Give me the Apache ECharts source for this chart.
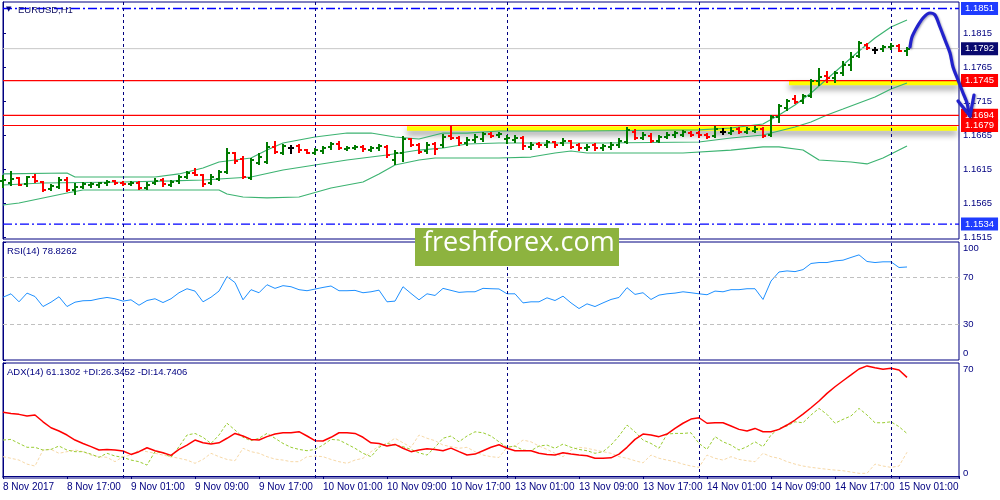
<!DOCTYPE html>
<html><head><meta charset="utf-8">
<script src="https://cdn.jsdelivr.net/npm/echarts@6/dist/echarts.min.js"></script>
<style>html,body{margin:0;padding:0;background:#fff;}#c{width:1000px;height:500px;}</style>
</head><body><div id="c"></div>
<script>
// ---------- DATA ----------
const timeLabels = ["8 Nov 2017","8 Nov 17:00","9 Nov 01:00","9 Nov 09:00","9 Nov 17:00","10 Nov 01:00","10 Nov 09:00","10 Nov 17:00","13 Nov 01:00","13 Nov 09:00","13 Nov 17:00","14 Nov 01:00","14 Nov 09:00","14 Nov 17:00","15 Nov 01:00"];
const opens = [1.15979,1.15940,1.16013,1.15930,1.16038,1.15954,1.15861,1.15881,1.15989,1.15842,1.15891,1.15910,1.15910,1.15940,1.15979,1.15949,1.15930,1.15949,1.15871,1.15940,1.15989,1.15920,1.15969,1.16038,1.16096,1.16057,1.15940,1.16008,1.16106,1.16381,1.16292,1.16013,1.16234,1.16258,1.16479,1.16391,1.16454,1.16488,1.16430,1.16391,1.16420,1.16469,1.16518,1.16449,1.16459,1.16469,1.16430,1.16454,1.16479,1.16283,1.16391,1.16587,1.16508,1.16410,1.16518,1.16508,1.16636,1.16601,1.16528,1.16577,1.16586,1.16665,1.16645,1.16586,1.16577,1.16601,1.16469,1.16518,1.16498,1.16542,1.16528,1.16557,1.16503,1.16454,1.16498,1.16454,1.16469,1.16503,1.16552,1.16699,1.16601,1.16635,1.16562,1.16616,1.16645,1.16655,1.16675,1.16684,1.16650,1.16635,1.16694,1.16684,1.16733,1.16699,1.16714,1.16743,1.16650,1.16910,1.17042,1.17174,1.17155,1.17223,1.17449,1.17517,1.17483,1.17557,1.17679,1.17811,1.17973,1.17900,1.17910,1.17939,1.17959,1.17890];
const highs = [1.16047,1.16106,1.16013,1.16038,1.16057,1.15964,1.15910,1.16023,1.16023,1.15930,1.15944,1.15949,1.15949,1.15979,1.15979,1.15964,1.15959,1.15959,1.15940,1.16008,1.16003,1.15974,1.16047,1.16111,1.16145,1.16062,1.16057,1.16121,1.16440,1.16391,1.16322,1.16302,1.16371,1.16538,1.16552,1.16503,1.16488,1.16503,1.16430,1.16440,1.16479,1.16528,1.16543,1.16479,1.16493,1.16488,1.16479,1.16508,1.16488,1.16420,1.16616,1.16596,1.16518,1.16528,1.16538,1.16650,1.16783,1.16626,1.16601,1.16650,1.16675,1.16684,1.16684,1.16635,1.16635,1.16616,1.16528,1.16537,1.16567,1.16552,1.16586,1.16567,1.16518,1.16503,1.16518,1.16503,1.16528,1.16586,1.16748,1.16724,1.16675,1.16665,1.16635,1.16675,1.16699,1.16714,1.16694,1.16699,1.16665,1.16763,1.16733,1.16748,1.16748,1.16748,1.16763,1.16748,1.16929,1.17091,1.17165,1.17223,1.17238,1.17459,1.17615,1.17581,1.17581,1.17728,1.17851,1.18022,1.17988,1.17924,1.17959,1.17988,1.17973,1.17924];
const lows = [1.15891,1.15910,1.15910,1.15900,1.15964,1.15832,1.15842,1.15866,1.15832,1.15778,1.15866,1.15891,1.15881,1.15915,1.15930,1.15915,1.15910,1.15861,1.15851,1.15930,1.15900,1.15900,1.15949,1.16018,1.16057,1.15900,1.15930,1.15989,1.16096,1.16243,1.16013,1.16003,1.16224,1.16234,1.16381,1.16371,1.16391,1.16405,1.16381,1.16366,1.16391,1.16440,1.16440,1.16430,1.16440,1.16420,1.16410,1.16430,1.16332,1.16219,1.16273,1.16488,1.16381,1.16381,1.16371,1.16479,1.16587,1.16503,1.16503,1.16552,1.16567,1.16616,1.16626,1.16537,1.16552,1.16439,1.16439,1.16478,1.16478,1.16478,1.16503,1.16454,1.16429,1.16429,1.16429,1.16429,1.16439,1.16478,1.16537,1.16586,1.16586,1.16552,1.16547,1.16601,1.16626,1.16635,1.16635,1.16626,1.16601,1.16616,1.16665,1.16665,1.16684,1.16684,1.16694,1.16626,1.16635,1.16846,1.17018,1.17125,1.17125,1.17204,1.17385,1.17434,1.17434,1.17532,1.17606,1.17792,1.17910,1.17861,1.17890,1.17910,1.17890,1.17826];
const closes = [1.15989,1.15998,1.15915,1.16028,1.15979,1.15842,1.15900,1.15989,1.15842,1.15891,1.15930,1.15930,1.15940,1.15964,1.15940,1.15930,1.15940,1.15871,1.15920,1.15979,1.15930,1.15959,1.16028,1.16087,1.16067,1.15930,1.16038,1.16111,1.16391,1.16273,1.16028,1.16283,1.16332,1.16479,1.16405,1.16488,1.16454,1.16430,1.16391,1.16430,1.16454,1.16513,1.16459,1.16464,1.16479,1.16440,1.16459,1.16488,1.16356,1.16391,1.16587,1.16508,1.16405,1.16503,1.16440,1.16626,1.16601,1.16528,1.16577,1.16626,1.16665,1.16635,1.16665,1.16601,1.16611,1.16488,1.16503,1.16498,1.16547,1.16503,1.16567,1.16478,1.16454,1.16478,1.16454,1.16488,1.16503,1.16567,1.16724,1.16601,1.16650,1.16567,1.16616,1.16650,1.16675,1.16694,1.16655,1.16645,1.16626,1.16743,1.16694,1.16714,1.16699,1.16733,1.16743,1.16635,1.16910,1.17081,1.17155,1.17140,1.17223,1.17449,1.17508,1.17483,1.17557,1.17679,1.17802,1.17998,1.17924,1.17900,1.17939,1.17959,1.17890,1.17920];

const bbUpper = [[0,1.16077],[8,1.16091],[9,1.16032],[19,1.16032],[22,1.16077],[25,1.16165],[27,1.16253],[31,1.16312],[33,1.16429],[35,1.16532],[37,1.16576],[39,1.16621],[43,1.16679],[46,1.16679],[49,1.16621],[52,1.16591],[55,1.16679],[58,1.16679],[62,1.16709],[72,1.16709],[87,1.16724],[91,1.16753],[95,1.16812],[97,1.16944],[99,1.17091],[101,1.17268],[103,1.17474],[105,1.17679],[107,1.17885],[109,1.18076],[111,1.18238],[113,1.18341]];
const bbMiddle = [[0,1.15915],[5,1.15944],[15,1.15959],[21,1.15974],[25,1.15988],[31,1.16032],[35,1.16135],[39,1.16209],[43,1.16282],[48,1.16356],[52,1.16429],[55,1.16459],[58,1.16518],[62,1.16532],[75,1.16532],[87,1.16547],[91,1.16606],[95,1.16650],[97,1.16709],[99,1.16768],[101,1.16841],[103,1.16944],[105,1.17032],[107,1.17121],[109,1.17209],[111,1.17326],[113,1.17415]];
const bbLower = [[0,1.15621],[2,1.15650],[5,1.15724],[8,1.15797],[10,1.15841],[27,1.15841],[28,1.15782],[30,1.15738],[33,1.15724],[37,1.15738],[41,1.15871],[45,1.15959],[47,1.16077],[49,1.16209],[52,1.16282],[54,1.16312],[62,1.16312],[66,1.16326],[69,1.16385],[71,1.16415],[73,1.16385],[85,1.16385],[91,1.16429],[95,1.16474],[97,1.16474],[100,1.16429],[102,1.16282],[106,1.16253],[108,1.16224],[110,1.16312],[111,1.16371],[113,1.16488]];

const rsi = [53.2,56.1,49.3,56.7,53.8,45.3,49.0,53.6,45.3,49.0,50.2,50.4,51.9,53.0,51.9,49.9,51.0,46.4,50.4,51.9,48.7,51.9,57.0,60.4,58.4,49.3,53.2,58.4,70.7,65.6,51.0,59.6,57.0,63.8,60.7,63.0,62.1,59.6,58.7,60.1,61.5,62.7,58.7,58.7,59.0,57.0,57.8,59.2,49.3,49.9,62.1,56.4,51.0,56.1,54.7,60.7,59.0,57.3,57.8,57.8,60.7,60.4,60.2,56.1,56.1,48.4,49.3,49.3,52.7,50.4,54.1,48.4,43.6,47.6,45.3,48.4,51.3,53.0,61.3,55.6,57.0,51.3,55.0,56.1,56.7,57.8,57.0,56.1,55.3,58.4,57.8,59.6,59.6,60.4,60.4,51.3,66.9,74.6,75.5,74.9,76.6,81.8,82.6,82.6,84.0,84.6,86.9,89.1,83.5,82.6,83.2,83.2,78.4,78.83];
const adx = [39.5,38.8,38.2,37.2,37.8,33.6,29.9,27.9,25.4,22.3,20.2,18.2,16.1,16.5,16.1,15.5,13.4,15.1,17.5,15.7,14.4,12.8,16.5,19.2,22.3,20.6,19.8,20.6,23.4,26.4,24.8,22.7,22.3,24.4,26.0,26.8,26.8,27.5,24.8,21.9,21.7,24.0,26.8,26.8,26.4,24.0,20.6,20.2,18.6,19.6,17.2,15.1,16.1,16.9,16.5,15.7,17.3,15.1,13.0,13.6,15.7,17.8,19.4,17.2,15.7,15.7,15.7,14.1,13.4,13.0,14.4,13.6,13.0,12.6,11.0,11.0,11.3,13.6,17.8,22.7,26.0,25.4,24.4,26.0,29.5,32.7,35.3,36.1,32.7,33.0,33.0,31.0,28.9,27.9,29.5,27.4,27.4,28.9,31.6,34.7,38.4,42.3,46.5,51.2,55.3,59.0,62.6,66.3,68.2,67.1,66.1,66.7,65.7,61.13];
const plusDI = [22.3,22.7,20.2,17.8,17.8,16.1,16.5,18.6,16.1,15.1,15.1,13.6,11.6,14.1,12.4,11.6,9.9,8.9,6.8,15.1,14.4,11.6,18.2,25.4,26.4,24.0,20.2,25.4,32.7,28.5,24.0,21.9,23.4,26.4,23.4,20.2,17.8,16.5,15.7,16.5,19.2,22.7,22.3,19.8,17.2,14.1,12.0,17.8,20.2,19.2,18.2,16.5,14.4,13.0,17.8,23.4,24.8,21.2,24.8,27.4,26.8,24.8,21.2,17.8,18.6,16.1,15.7,18.6,19.2,17.2,19.8,17.8,16.5,15.7,14.1,15.1,19.2,24.8,31.6,27.4,22.3,20.2,17.2,26.0,26.4,26.4,26.8,20.2,16.5,24.4,21.2,19.2,16.1,18.2,21.2,18.2,25.4,29.5,31.0,33.6,33.0,37.8,41.9,38.2,32.7,35.1,37.2,41.9,37.8,33.0,33.0,33.6,30.6,26.35];
const minusDI = [12.0,11.0,9.9,7.4,6.2,16.1,16.5,14.1,15.1,16.1,15.1,13.0,12.0,11.6,8.9,12.0,13.0,16.1,15.1,14.1,13.0,12.0,11.0,9.9,7.9,10.3,14.1,12.0,10.3,9.5,17.2,15.1,14.1,12.0,10.5,9.9,8.9,8.9,12.0,12.4,12.0,10.3,8.9,7.9,9.9,11.0,15.1,18.6,20.2,23.4,20.6,17.8,25.4,23.4,21.9,19.2,18.2,17.2,17.8,15.1,13.0,12.0,11.5,17.8,18.6,22.3,21.2,18.6,16.5,14.1,12.0,16.1,17.8,17.2,16.1,15.1,14.1,12.0,11.0,9.5,8.2,13.0,11.0,9.9,8.9,7.4,6.2,5.4,13.0,11.0,9.9,12.0,10.3,9.5,8.9,14.1,12.0,11.0,8.9,7.4,6.2,5.4,4.8,4.2,3.7,3.3,2.5,1.7,1.7,7.4,6.2,5.4,6.2,14.74];

const priceTicks = [1.1515,1.1565,1.1615,1.1665,1.1715,1.1765,1.1815];
const rsiTicks = [0,30,70,100];
const rsiLevels = [70,30];
const adxTicks = [0,70];
const daySeparators = [15,39,63,87,111];
const levelValues = [1.1851,1.1792,1.1745,1.1694,1.1679,1.1534];
const levelKinds  = ['blue','grey','red','red','red','blue'];
const yellowZones = [[[98.25,1.17415],[119.5,1.17415]],[[50.5,1.16746],[119.25,1.16746]]];
const arrowPath = [[113.375,1.17944],[113.625,1.18091],[114.25,1.18238],[115,1.18371],[115.875,1.18444],[116.5,1.18415],[117.125,1.18238],[117.75,1.18047],[118.375,1.17856],[118.75,1.17650],[119.375,1.17459],[120,1.17268],[120.5,1.17121],[120.75,1.16974],[120.875,1.16929]];
const arrowHead = [[119.375,1.17150],[120.875,1.16929],[121.375,1.17238]];
const rsiLabel = 'RSI(14) 78.8262';
const adxLabel = 'ADX(14) 61.1302 +DI:26.3452 -DI:14.7406';
const title = 'EURUSD,H1';

// ---------- CHART ----------
const FONT = '"Liberation Sans", Arial, sans-serif';
const NAVY = '#000080';
const chart = echarts.init(document.getElementById('c'), null, {width:1000, height:500});
const ohlc = opens.map((o,i)=>[i,o,highs[i],lows[i],closes[i]]);
const xs = rsi.map((v,i)=>i);
const PMIN = 1.151206, PMAX = 1.186059, XMAX = 119.5;

function renderBar(params, api){
  const x=api.value(0), o=api.value(1), h=api.value(2), l=api.value(3), c=api.value(4);
  const pH=api.coord([x,h]), pL=api.coord([x,l]), pO=api.coord([x,o]), pC=api.coord([x,c]);
  const col = c>o ? '#007a00' : (c<o ? '#ff0000' : '#000000');
  const st = {stroke:col, lineWidth:2};
  const yo=Math.round(pO[1]), yc=Math.round(pC[1]);
  return {type:'group', children:[
    {type:'line', shape:{x1:pH[0],y1:Math.round(pH[1])-1,x2:pL[0],y2:Math.round(pL[1])+1}, style:st},
    {type:'line', shape:{x1:pO[0]-3,y1:yo,x2:pO[0],y2:yo}, style:st},
    {type:'line', shape:{x1:pC[0],y1:yc,x2:pC[0]+3,y2:yc}, style:st}
  ]};
}

const levelStyle = {
  blue:{line:{color:'#0000ff',type:[9,3,2,3],width:1.3}, bg:'#1f3cff'},
  grey:{line:{color:'#c8c8c8',type:'solid',width:1}, bg:'#0a0a70'},
  red:{line:{color:'#ff0000',type:'solid',width:1.2}, bg:'#ff0000'}
};
const levelSeries = levelValues.map((v,i)=>{
  const s = levelStyle[levelKinds[i]];
  return {type:'line', xAxisIndex:0, yAxisIndex:0, data:[[0,v],[XMAX,v]], z:4, silent:true, showSymbol:false,
    color:s.line.color, lineStyle:Object.assign({}, s.line),
    endLabel:{show:true, formatter:v.toFixed(4), backgroundColor:s.bg, color:'#fff', padding:[2,4,1,4], distance:2, fontSize:9.5, fontFamily:FONT}};
});
const sepMarks = daySeparators.map(v=>({xAxis:v}));
const sepStyle = {color:NAVY, type:[3,3], width:1};

const xAxisBase = {type:'value', min:0, max:XMAX, interval:8};
const option = {
  animation:false,
  backgroundColor:'#ffffff',
  grid:[
    {left:3, top:2, right:41, height:237, show:true, borderColor:NAVY, borderWidth:1},
    {left:3, top:242, right:41, height:118, show:true, borderColor:NAVY, borderWidth:1},
    {left:3, top:363, right:41, height:115, show:true, borderColor:NAVY, borderWidth:1},
    {left:3, top:2, right:0, height:237, show:false}
  ],
  xAxis:[
    Object.assign({gridIndex:0, show:false, splitLine:{show:false}}, xAxisBase),
    Object.assign({gridIndex:1, show:false, splitLine:{show:false}}, xAxisBase),
    Object.assign({gridIndex:2, show:true, splitLine:{show:false},
      axisLine:{show:true, lineStyle:{color:NAVY}},
      axisTick:{show:true, length:3, lineStyle:{color:NAVY}},
      axisLabel:{show:true, align:'left', margin:4, color:NAVY, fontSize:10, fontFamily:FONT,
        formatter:v=>timeLabels[Math.round(v/8)] || ''}}, xAxisBase),
    {gridIndex:3, type:'value', min:0, max:124.625, show:false, splitLine:{show:false}}
  ],
  yAxis:[
    {gridIndex:0, type:'value', position:'right', min:PMIN, max:PMAX, splitLine:{show:false},
      axisLine:{show:true, lineStyle:{color:NAVY}},
      axisTick:{show:true, length:3, customValues:priceTicks, lineStyle:{color:NAVY}},
      axisLabel:{customValues:priceTicks, formatter:v=>v.toFixed(4), color:NAVY, fontSize:9.5, fontFamily:FONT, margin:4}},
    {gridIndex:1, type:'value', position:'right', min:0, max:100, splitLine:{show:false},
      axisLine:{show:true, lineStyle:{color:NAVY}},
      axisTick:{show:true, length:3, customValues:rsiTicks, lineStyle:{color:NAVY}},
      axisLabel:{customValues:rsiTicks, color:NAVY, fontSize:9.5, fontFamily:FONT, margin:4,
        formatter:v=> v===100 ? '{t|100}' : (v===0 ? '{b|0}' : '{m|'+v+'}'),
        rich:{t:{padding:[12,0,0,0],fontSize:9.5,fontFamily:FONT,color:NAVY}, b:{padding:[0,0,14,0],fontSize:9.5,fontFamily:FONT,color:NAVY}, m:{fontSize:9.5,fontFamily:FONT,color:NAVY}}}},
    {gridIndex:2, type:'value', position:'right', min:-1.2, max:70, splitLine:{show:false},
      axisLine:{show:true, lineStyle:{color:NAVY}},
      axisTick:{show:true, length:3, customValues:adxTicks, lineStyle:{color:NAVY}},
      axisLabel:{customValues:adxTicks, color:NAVY, fontSize:9.5, fontFamily:FONT, margin:4,
        formatter:v=> v===70 ? '{t|70}' : '{b|0}',
        rich:{t:{padding:[12,0,0,0],fontSize:9.5,fontFamily:FONT,color:NAVY}, b:{padding:[0,0,6,0],fontSize:9.5,fontFamily:FONT,color:NAVY}}}},
    {gridIndex:3, type:'value', min:PMIN, max:PMAX, show:false, splitLine:{show:false}}
  ],
  series:[
    ...yellowZones.map(z=>({type:'line', xAxisIndex:0, yAxisIndex:0, data:z, showSymbol:false, silent:true, z:1,
      lineStyle:{color:'#ffff00', width:4.5, shadowColor:'rgba(0,0,0,0.45)', shadowBlur:6, shadowOffsetY:4}})),
    ...[bbUpper,bbMiddle,bbLower].map(d=>({type:'line', xAxisIndex:0, yAxisIndex:0, data:d, showSymbol:false, silent:true, z:2,
      lineStyle:{color:'#3cb371', width:1.2}})),
    ...levelSeries,
    {type:'line', xAxisIndex:0, yAxisIndex:0, data:[], z:4, silent:true,
      markLine:{symbol:['none','none'], silent:true, animation:false, lineStyle:sepStyle, label:{show:false}, data:sepMarks}},
    {type:'custom', xAxisIndex:0, yAxisIndex:0, data:ohlc, renderItem:renderBar, z:5, encode:{x:0, y:[1,2,3,4]}},
    {type:'line', xAxisIndex:3, yAxisIndex:3, data:arrowPath, showSymbol:false, z:8, smooth:0.3,
      lineStyle:{color:'#2222cc', width:3.2, cap:'round', join:'round', shadowColor:'rgba(0,0,60,0.35)', shadowBlur:2, shadowOffsetX:1, shadowOffsetY:1}},
    {type:'line', xAxisIndex:3, yAxisIndex:3, data:arrowHead, showSymbol:false, z:8,
      lineStyle:{color:'#2222cc', width:3.2, cap:'round', join:'round', shadowColor:'rgba(0,0,60,0.35)', shadowBlur:2, shadowOffsetX:1, shadowOffsetY:1}},
    {type:'line', xAxisIndex:1, yAxisIndex:1, data:xs.map(i=>[i,rsi[i]]), showSymbol:false, z:3,
      lineStyle:{color:'#1e90ff', width:1},
      markLine:{symbol:['none','none'], precision:2, silent:true, animation:false, label:{show:false},
        data: rsiLevels.map(v=>({yAxis:v, lineStyle:{color:'#c0c0c0', type:[4,3], width:1}})).concat(sepMarks.map(m=>Object.assign({lineStyle:sepStyle},m)))}},
    {type:'line', xAxisIndex:2, yAxisIndex:2, data:xs.map(i=>[i,minusDI[i]]), showSymbol:false, z:2,
      lineStyle:{color:'#f7d9a8', width:1, type:[3,2]}},
    {type:'line', xAxisIndex:2, yAxisIndex:2, data:xs.map(i=>[i,plusDI[i]]), showSymbol:false, z:3,
      lineStyle:{color:'#9acd32', width:1, type:[3,2]}},
    {type:'line', xAxisIndex:2, yAxisIndex:2, data:xs.map(i=>[i,adx[i]]), showSymbol:false, z:4,
      lineStyle:{color:'#ff0000', width:1.5},
      markLine:{symbol:['none','none'], silent:true, animation:false, label:{show:false},
        data: sepMarks.map(m=>Object.assign({lineStyle:sepStyle},m))}}
  ],
  graphic:[
    {type:'text', left:6, top:6, z:20, style:{text:'▼', fill:NAVY, font:'7px "DejaVu Sans"'}},
    {type:'text', left:18, top:5, z:20, style:{text:title, fill:'#101060', font:'9.5px "Liberation Sans"'}},
    {type:'text', left:7, top:246, z:20, style:{text:rsiLabel, fill:NAVY, font:'9.5px "Liberation Sans"'}},
    {type:'text', left:7, top:367, z:20, style:{text:adxLabel, fill:NAVY, font:'9.5px "Liberation Sans"'}},
    {type:'rect', left:415, top:228, z:30, shape:{width:204, height:38}, style:{fill:'#8db33f'}},
    {type:'text', left:423, top:230, z:31, style:{text:'freshforex.com', fill:'#ffffff', font:'27px "Open Sans"'}}
  ]
};
chart.setOption(option);
</script>
</body></html>
